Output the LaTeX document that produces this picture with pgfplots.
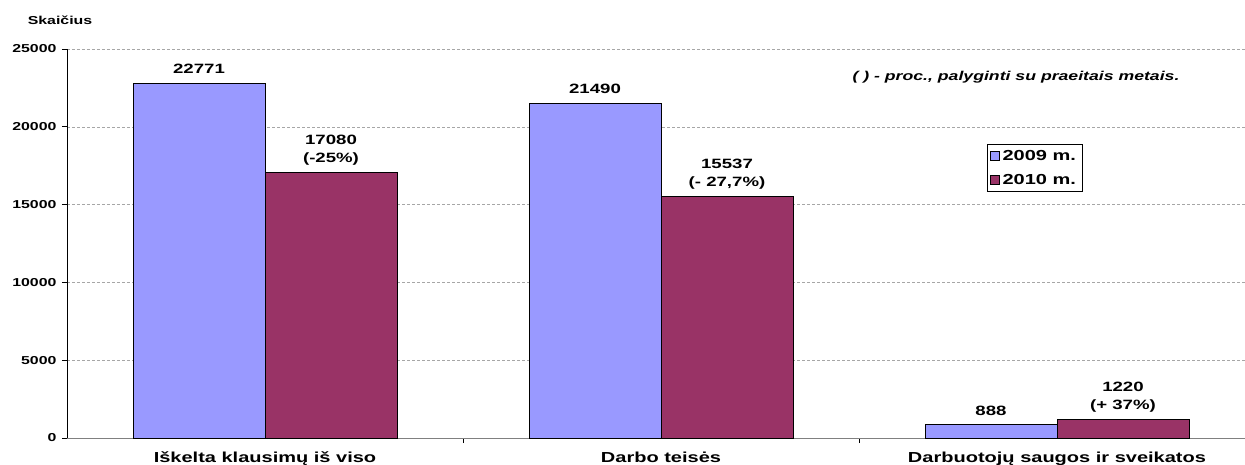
\documentclass[border=0pt]{standalone}
\usepackage{pgfplots}
\pgfplotsset{compat=1.18}
\usepackage{fontspec}
\setmainfont{Liberation Sans}[FakeStretch=1.38]
\definecolor{c09}{HTML}{9999FF}
\definecolor{c10}{HTML}{993366}
\pgfplotsset{
  sqleg/.style={legend image code/.code={\draw[##1, draw=black, line width=0.5pt] (0pt,-4.4pt) rectangle (8.8pt,4.4pt);}},
}
\begin{document}
\begin{tikzpicture}
\begin{axis}[
  name=ax,
  scale only axis,
  clip=false,
  width=1188pt, height=389pt,
  xmin=-0.5, xmax=2.5, ymin=0, ymax=25000,
  axis x line*=bottom, axis y line*=left,
  x axis line style={draw=gray, -},
  y axis line style={draw=black, -},
  ytick={0,5000,...,25000},
  xtick={0.5,1.5,2.5}, xticklabels={},
  tick align=outside, major tick length=5pt,
  tick style={black, line width=0.6pt},
  ymajorgrids, grid style={densely dashed, gray!70, line width=0.4pt},
  scaled y ticks=false,
  yticklabel style={font=\fontsize{11.5}{13}\selectfont\bfseries, xshift=-2pt},
  /pgf/number format/1000 sep={},
  /pgf/number format/assume math mode=true,
  bar width=0.3333,
  legend style={at={(rel axis cs:0.7744,0.7558)}, anchor=north west, draw=black, line width=0.6pt,
    font=\fontsize{14.5}{16}\selectfont\bfseries, inner xsep=3pt, inner ysep=4pt, row sep=8pt,
    nodes={inner xsep=3pt}},
  legend cell align=left,
]
\addplot[ybar, bar shift=-0.16667, fill=c09, draw=black, line width=0.6pt, sqleg] coordinates {(0,22771) (1,21490) (2,888)};
\addplot[ybar, bar shift=0.16667, fill=c10, draw=black, line width=0.6pt, sqleg] coordinates {(0,17080) (1,15537) (2,1220)};
\legend{2009 m., 2010 m.}

\begin{scope}[every node/.style={font=\fontsize{13.5}{15}\selectfont\bfseries, anchor=base, inner sep=0pt}]
\node[yshift=10.5pt] at (axis cs:-0.16667,22771) {22771};
\node[yshift=10pt] at (axis cs:0.83333,21490) {21490};
\node[yshift=9pt] at (axis cs:1.83333,888) {888};
\node[yshift=27.5pt] at (axis cs:0.16667,17080) {17080};
\node[yshift=10pt] at (axis cs:0.16667,17080) {(-25\%)};
\node[yshift=27.5pt] at (axis cs:1.16667,15537) {15537};
\node[yshift=10pt] at (axis cs:1.16667,15537) {(- 27,7\%)};
\node[yshift=27.5pt] at (axis cs:2.16667,1220) {1220};
\node[yshift=10pt] at (axis cs:2.16667,1220) {(+ 37\%)};
\end{scope}
\begin{scope}[every node/.style={font=\fontsize{14.5}{16}\selectfont\bfseries, anchor=base, inner sep=0pt}]
\node[yshift=-24.5pt] at (axis cs:0,0) {Iškelta klausimų iš viso};
\node[yshift=-24.5pt] at (axis cs:1,0) {Darbo teisės};
\node[yshift=-24.5pt] at (axis cs:2,0) {Darbuotojų saugos ir sveikatos};
\end{scope}
\end{axis}
\node[font=\fontsize{11.5}{13}\selectfont\bfseries, inner sep=0pt] at ([shift={(-7pt,29pt)}]ax.north west) {Skaičius};
\node[font=\fontsize{12.8}{14}\selectfont\bfseries\itshape, inner sep=0pt] at ([shift={(949pt,361pt)}]ax.south west) {( ) - proc., palyginti su praeitais metais.};
\pgfresetboundingbox
\path[use as bounding box] ([shift={(-67pt,-26pt)}]ax.south west) rectangle ([shift={(1178pt,438pt)}]ax.south west);
\end{tikzpicture}
\end{document}
